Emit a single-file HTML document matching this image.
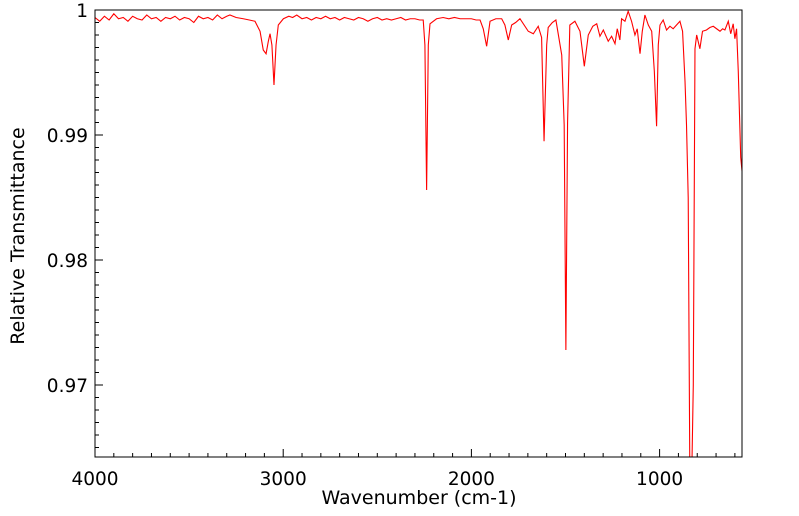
<!DOCTYPE html>
<html><head><meta charset="utf-8"><style>
html,body{margin:0;padding:0;background:#fff;}
svg{display:block;font-family:"DejaVu Sans","Liberation Sans",sans-serif;}
</style></head><body>
<svg id="chart" width="799" height="516" viewBox="0 0 799 516">
<rect x="0" y="0" width="799" height="516" fill="#fff"/>
<g id="ticks"></g>
<clipPath id="clip"><rect x="95" y="10" width="647" height="447"/></clipPath>
<path id="line" fill="none" stroke="#ff0000" stroke-width="1.1" clip-path="url(#clip)"/>
<rect x="95" y="10" width="647" height="447" fill="none" stroke="#000" stroke-width="1"/>
<text x="419" y="504" font-size="19" text-anchor="middle">Wavenumber (cm-1)</text>
<text transform="translate(24,236) rotate(-90)" font-size="19" text-anchor="middle">Relative Transmittance</text>
</svg>
<script>
const wavenumbers = [4000,3975,3950,3925,3900,3875,3850,3825,3800,3775,3750,3725,3700,3675,3650,3625,3600,3575,3550,3525,3500,3475,3450,3425,3400,3375,3350,3325,3300,3283,3250,3212,3180,3150,3123,3106,3091,3079,3070,3060,3049,3038,3026,2999,2970,2950,2928,2900,2875,2850,2825,2800,2775,2750,2725,2700,2675,2650,2625,2600,2575,2550,2525,2500,2475,2450,2425,2400,2375,2350,2325,2300,2275,2256,2247,2238,2229,2220,2185,2150,2120,2090,2060,2030,2000,1975,1954,1937,1919,1901,1870,1839,1822,1804,1786,1765,1742,1698,1671,1645,1627,1614,1600,1592,1570,1551,1520,1507,1498,1489,1477,1450,1423,1400,1379,1355,1334,1317,1299,1273,1255,1237,1225,1211,1202,1184,1167,1149,1131,1119,1104,1092,1078,1060,1042,1028,1016,1007,998,981,963,945,928,910,892,878,865,857,848,839,830,821,812,803,786,772,751,733,715,697,679,665,653,635,622,609,600,591,582,569,560];
const transmittance = [.9994,.9991,.9995,.9992,.9997,.9993,.9994,.9991,.9995,.9993,.9992,.9996,.9993,.9994,.9991,.9994,.9993,.9995,.9992,.9994,.9993,.9990,.9995,.9993,.9994,.9992,.9996,.9993,.9995,.9996,.9994,.9993,.9992,.9991,.9983,.9968,.9965,.9975,.9981,.9972,.9940,.9972,.9988,.9993,.9995,.9994,.9996,.9993,.9994,.9992,.9994,.9993,.9995,.9993,.9994,.9992,.9994,.9993,.9992,.9994,.9993,.9991,.9993,.9994,.9992,.9993,.9992,.9993,.9994,.9992,.9993,.9993,.9992,.9992,.9972,.9856,.9972,.9989,.9993,.9994,.9993,.9994,.9993,.9993,.9993,.9992,.9992,.9985,.9971,.9991,.9993,.9993,.9988,.9976,.9988,.9990,.9993,.9983,.9981,.9987,.9978,.9895,.9972,.9986,.9990,.9992,.9964,.9908,.9728,.9910,.9988,.9991,.9983,.9955,.9980,.9987,.9989,.9979,.9984,.9975,.9979,.9973,.9985,.9976,.9993,.9991,.9999,.9991,.9980,.9985,.9965,.9983,.9996,.9988,.9983,.9951,.9907,.9972,.9988,.9992,.9984,.9987,.9985,.9988,.9991,.9983,.9943,.9908,.9850,.9620,.9620,.9700,.9969,.9980,.9969,.9983,.9984,.9986,.9987,.9985,.9983,.9985,.9984,.9991,.9981,.9989,.9977,.9985,.9951,.9882,.9868];
const xTickValues = [4000,3000,2000,1000];
const xTickLabels = ["4000","3000","2000","1000"];
const yTickValues = [1,0.99,0.98,0.97];
const yTickLabels = ["1","0.99","0.98","0.97"];

const X0=95,X1=742,Y0=10,Y1=457;
const WN_MAX=4000, WN_MIN=4000-(X1-X0)/0.1882;
const T_MAX=1, T_MIN=1-(Y1-Y0)/12500;
function xs(w){return X0+(WN_MAX-w)/(WN_MAX-WN_MIN)*(X1-X0);}
function ys(t){return Y0+(T_MAX-t)/(T_MAX-T_MIN)*(Y1-Y0);}

const NS="http://www.w3.org/2000/svg";
const ticks=document.getElementById('ticks');
function ln(x1,y1,x2,y2,name){
  const l=document.createElementNS(NS,'line');
  l.setAttribute('x1',x1);l.setAttribute('y1',y1);l.setAttribute('x2',x2);l.setAttribute('y2',y2);
  l.setAttribute('stroke','#000');l.setAttribute('stroke-width','1');
  
  
  ticks.appendChild(l);
}
function tx(x,y,s,anchor,name){
  const t=document.createElementNS(NS,'text');
  t.setAttribute('x',x);t.setAttribute('y',y);t.setAttribute('font-size','18.5');t.setAttribute('text-anchor',anchor);
  t.textContent=s;
  
  
  ticks.appendChild(t);
}
for(let w=4000;w>WN_MIN;w-=100){
  const major=(w%1000===0);
  const x=xs(w);
  ln(x,Y1,x,Y1-(major?8:4),'x-tick');
}
xTickValues.forEach((v,i)=>{tx(xs(v),Y1+28,xTickLabels[i],'middle','x-tick-label');});
for(let k=0;k<=35;k++){
  const t=1-k*0.001;
  if(t<T_MIN) break;
  const major=(k%10===0);
  const y=ys(t);
  ln(X0,y,X0+(major?8:4),y,'y-tick');
}
yTickValues.forEach((v,i)=>{tx(X0-7,ys(v)+7,yTickLabels[i],'end','y-tick-label');});

let d='';
for(let i=0;i<wavenumbers.length;i++){
  d+=(i?'L':'M')+xs(wavenumbers[i]).toFixed(2)+','+ys(transmittance[i]).toFixed(2);
}
document.getElementById('line').setAttribute('d',d);
</script>
</body></html>
